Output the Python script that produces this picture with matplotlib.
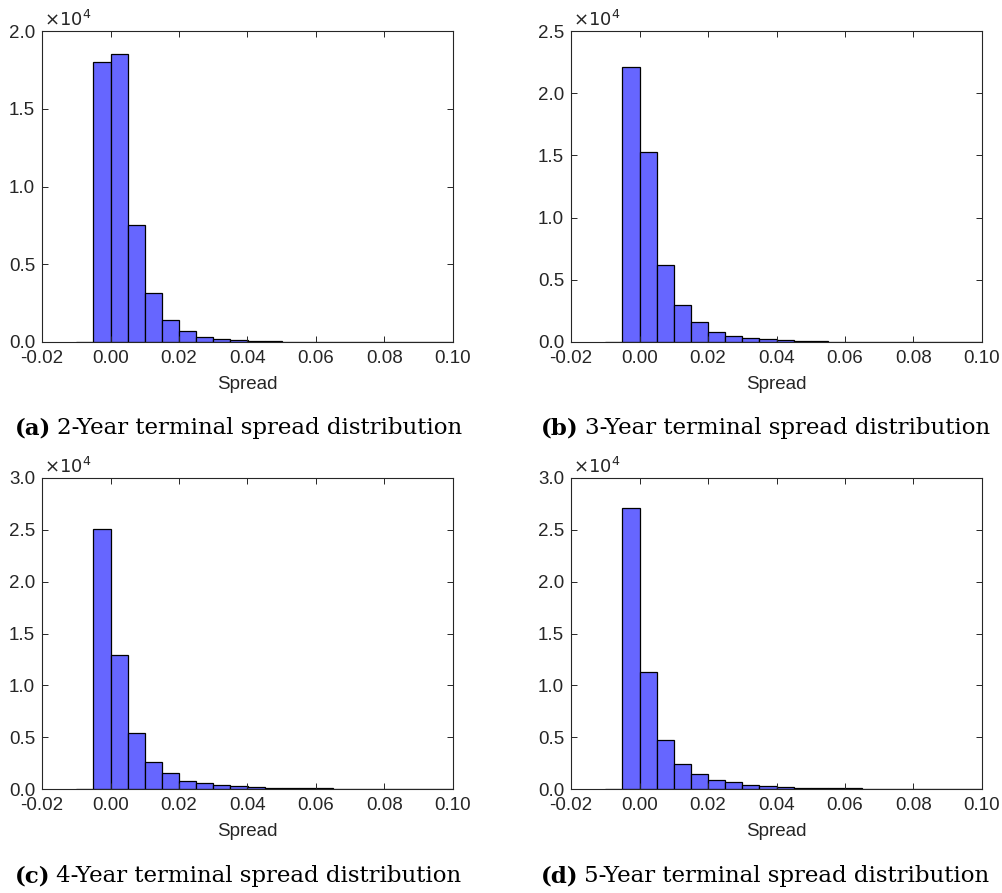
import numpy as np
import matplotlib
matplotlib.use("Agg")
from matplotlib import pyplot as plt
from matplotlib.ticker import FuncFormatter

# bin edges of the histograms
edges = np.round(np.arange(-0.01, 0.1001, 0.005), 4)

# counts per bin
counts_2y = [0, 18000, 18500, 7550, 3150, 1400, 680, 350, 190, 120, 80, 50,
             30, 20, 15, 10, 8, 6, 5, 4, 3, 2]
counts_3y = [0, 22100, 15250, 6200, 2950, 1580, 830, 480, 300, 210, 130, 80,
             55, 40, 30, 20, 15, 12, 9, 7, 5, 4]
counts_4y = [0, 25100, 12900, 5400, 2570, 1500, 800, 580, 390, 260, 170, 120,
             100, 80, 55, 40, 30, 25, 20, 15, 12, 10]
counts_5y = [0, 27100, 11300, 4700, 2400, 1450, 840, 640, 390, 260, 200, 130,
             100, 80, 60, 45, 35, 30, 25, 20, 15, 12]

letters = ["(a)", "(b)", "(c)", "(d)"]
captions = ["2-Year terminal spread distribution", "3-Year terminal spread distribution",
            "4-Year terminal spread distribution", "5-Year terminal spread distribution"]
ymax = [20000, 25000, 30000, 30000]
xticks = [-0.02, 0.0, 0.02, 0.04, 0.06, 0.08, 0.10]

fig = plt.figure(figsize=(10.02, 8.93), dpi=100)
W, H = 1002.0, 893.0
# axes boxes in pixels: left, top, right, bottom
boxes = [(42, 31, 453, 342), (571, 31, 982, 342),
         (42, 478, 453, 789), (571, 478, 982, 789)]
cap_pos = [(15, 428), (541, 428), (15, 876), (541, 876)]
axcol = "#262626"
fs = 13.5

for i, data in enumerate([counts_2y, counts_3y, counts_4y, counts_5y]):
    l, t, r, b = boxes[i]
    ax = fig.add_axes([l / W, 1 - b / H, (r - l) / W, (b - t) / H])
    ax.bar(edges[:-1], data, width=0.005, align="edge", color="#6666ff",
           edgecolor="black", linewidth=0.9)
    ax.set_xlim(-0.02, 0.1)
    ax.set_ylim(0, ymax[i])
    ax.set_xticks(xticks)
    ax.set_yticks(np.arange(0, ymax[i] + 1, 5000))
    ax.xaxis.set_major_formatter(FuncFormatter(lambda v, p: "%.2f" % v))
    ax.yaxis.set_major_formatter(FuncFormatter(lambda v, p: "%.1f" % (v / 1e4)))
    ax.tick_params(direction="in", top=True, right=True, length=4, width=0.7,
                   colors=axcol, labelsize=fs)
    ax.tick_params(axis="x", pad=6)
    ax.tick_params(axis="y", pad=5)
    for lab in ax.get_xticklabels() + ax.get_yticklabels():
        lab.set_fontfamily("Liberation Sans")
    for s in ax.spines.values():
        s.set_color(axcol)
        s.set_linewidth(0.8)
    ax.set_xlabel("Spread", fontsize=fs, family="Liberation Sans", color=axcol, labelpad=6)
    ax.text(0.005, 1.002, r"$\times10^4$", transform=ax.transAxes, ha="left", va="bottom",
            fontsize=13, color=axcol, family="Liberation Sans")
    x0, y0 = cap_pos[i]
    t1 = fig.text(x0 / W, 1 - y0 / H, letters[i], fontsize=16.5, family="DejaVu Serif",
                  weight="bold", ha="left", va="center")
    fig.canvas.draw()
    bb = t1.get_window_extent()
    fig.text((bb.x1 + 6) / W, 1 - y0 / H, captions[i], fontsize=16.5,
             family="DejaVu Serif", ha="left", va="center")

plt.savefig("out.png", dpi=100)
